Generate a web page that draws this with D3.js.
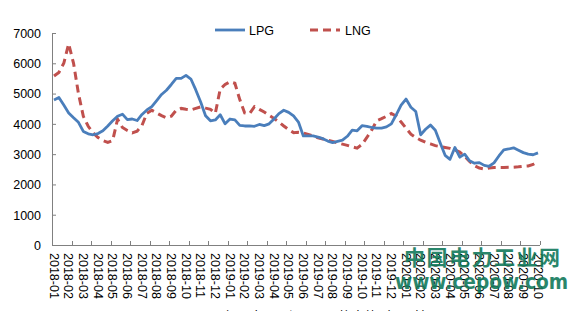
<!DOCTYPE html>
<meta charset="utf-8">
<style>
body { margin: 0; background: #fff; }
svg { display: block; font-family: "Liberation Sans", Arial, sans-serif; }
.axis text { font-size: 12.5px; fill: #000; }
.axis path, .axis line { stroke: #808080; stroke-width: 1; }
.lpg { fill: none; stroke: #4a7ebb; stroke-width: 2.8; stroke-linejoin: round; }
.lng { fill: none; stroke: #c0504d; stroke-width: 3; stroke-dasharray: 8,5; }
</style>
<svg width="582" height="311"></svg>
<script src="https://d3js.org/d3.v7.min.js"></script>
<script>

var months = ["2018-01","2018-02","2018-03","2018-04","2018-05","2018-06","2018-07","2018-08","2018-09","2018-10","2018-11","2018-12",
              "2019-01","2019-02","2019-03","2019-04","2019-05","2019-06","2019-07","2019-08","2019-09","2019-10","2019-11","2019-12",
              "2020-01","2020-02","2020-03","2020-04","2020-05","2020-06","2020-07","2020-08","2020-09","2020-10"];

var yTicks = [0, 1000, 2000, 3000, 4000, 5000, 6000, 7000];

// about three readings a month, Jan 2018 .. Oct 2020
var lpg = [4790,4870,4620,4360,4200,4050,3750,3670,3640,3680,3770,3930,4100,4250,4320,4140,4160,4110,4310,4460,
           4570,4770,4970,5110,5300,5500,5500,5600,5480,5120,4720,4270,4100,4130,4300,4000,4160,4130,3950,3930,
           3930,3920,3980,3940,4000,4160,4340,4450,4380,4260,4060,3600,3600,3600,3560,3510,3430,3380,3420,3460,
           3590,3790,3770,3940,3920,3880,3860,3860,3900,4000,4300,4620,4820,4550,4410,3640,3820,3960,3790,3370,
           2960,2830,3220,2900,3000,2780,2700,2720,2630,2600,2710,2940,3140,3170,3210,3130,3050,3000,2980,3040];

var lng = [5580,5700,6000,6640,6000,5000,4250,3920,3700,3550,3450,3390,3450,4150,3880,3780,3700,3760,3950,4350,
           4450,4360,4270,4200,4250,4450,4510,4480,4460,4510,4560,4520,4480,4350,5150,5300,5390,5340,4800,4360,
           4340,4570,4480,4390,4280,4180,4060,3930,3810,3710,3720,3700,3650,3600,3540,3500,3460,3420,3370,3330,
           3290,3240,3200,3320,3550,3800,4100,4170,4250,4340,4250,4060,3860,3660,3550,3460,3390,3340,3280,3250,
           3220,3190,3140,3070,2930,2760,2620,2540,2510,2540,2560,2560,2560,2565,2570,2580,2600,2610,2660,2750];

var svg = d3.select("svg");

var x0 = 52, x1 = 540, yTop = 33, yBot = 245;

var y = d3.scaleLinear().domain([0, 7000]).range([yBot, yTop]);
var xm = d3.scalePoint().domain(months).range([54, 538]);
var xi = d3.scaleLinear().domain([0, lpg.length - 1]).range([54, 538]);
var xt = d3.scaleLinear().domain([0, 25]).range([x0, x1]);

// y axis
var gy = svg.append("g").attr("class", "axis")
    .attr("transform", "translate(" + x0 + ",0)")
    .call(d3.axisRight(y).tickValues(yTicks).tickSize(4).tickSizeOuter(0).tickFormat(d3.format("d")));
gy.selectAll("text").attr("x", -11).attr("text-anchor", "end").attr("dy", "0.35em");

// x axis: ticks and month labels are spaced differently
var gx = svg.append("g").attr("class", "axis")
    .attr("transform", "translate(0," + yBot + ")");
gx.append("line").attr("x1", x0).attr("x2", x1).attr("y1", 0.5).attr("y2", 0.5);
gx.selectAll(".tk").data(d3.range(26)).enter().append("line")
    .attr("x1", function(d) { return Math.round(xt(d)) + 0.5; })
    .attr("x2", function(d) { return Math.round(xt(d)) + 0.5; })
    .attr("y1", 0).attr("y2", -4);
gx.selectAll(".lb").data(months).enter().append("text")
    .attr("transform", function(d) { return "translate(" + (xm(d) - 4.5) + ",8) rotate(90)"; })
    .attr("text-anchor", "start")
    .text(function(d) { return d; });

var line = d3.line()
    .x(function(d, i) { return xi(i); })
    .y(function(d) { return y(d); });

svg.append("path").datum(lng).attr("class", "lng").attr("d", line);
svg.append("path").datum(lpg).attr("class", "lpg").attr("d", line);

// legend
var lg = svg.append("g");
lg.append("line").attr("class", "lpg").attr("x1", 215).attr("x2", 245).attr("y1", 30).attr("y2", 30);
lg.append("text").attr("x", 249).attr("y", 35).attr("font-size", 12.5).text("LPG");
lg.append("line").attr("class", "lng").attr("x1", 310).attr("x2", 340).attr("y1", 30).attr("y2", 30)
    .attr("stroke-dasharray", "7,4");
lg.append("text").attr("x", 345).attr("y", 35).attr("font-size", 12.5).text("LNG");

// caption, mostly cut off at the bottom as in the source image
svg.append("text").attr("x", 195).attr("y", 321)
    .attr("font-size", 13).attr("font-family", "'Noto Sans CJK SC', sans-serif")
    .text("2018年以来LPG与LNG价格走势（元/吨）");

// watermark
var wm = svg.append("g").attr("fill", "#127a5b").attr("opacity", 0.9).attr("font-weight", "bold");
wm.append("text").attr("x", 404).attr("y", 265)
    .attr("font-size", 21).attr("font-family", "'Noto Sans CJK SC', sans-serif")
    .attr("textLength", 156).attr("lengthAdjust", "spacing")
    .text("中国电力工业网");
wm.append("text").attr("x", 395).attr("y", 289)
    .attr("font-size", 21).attr("font-family", "'DejaVu Sans', sans-serif")
    .attr("textLength", 173).attr("lengthAdjust", "spacingAndGlyphs")
    .text("www.cepow.com");

</script>
